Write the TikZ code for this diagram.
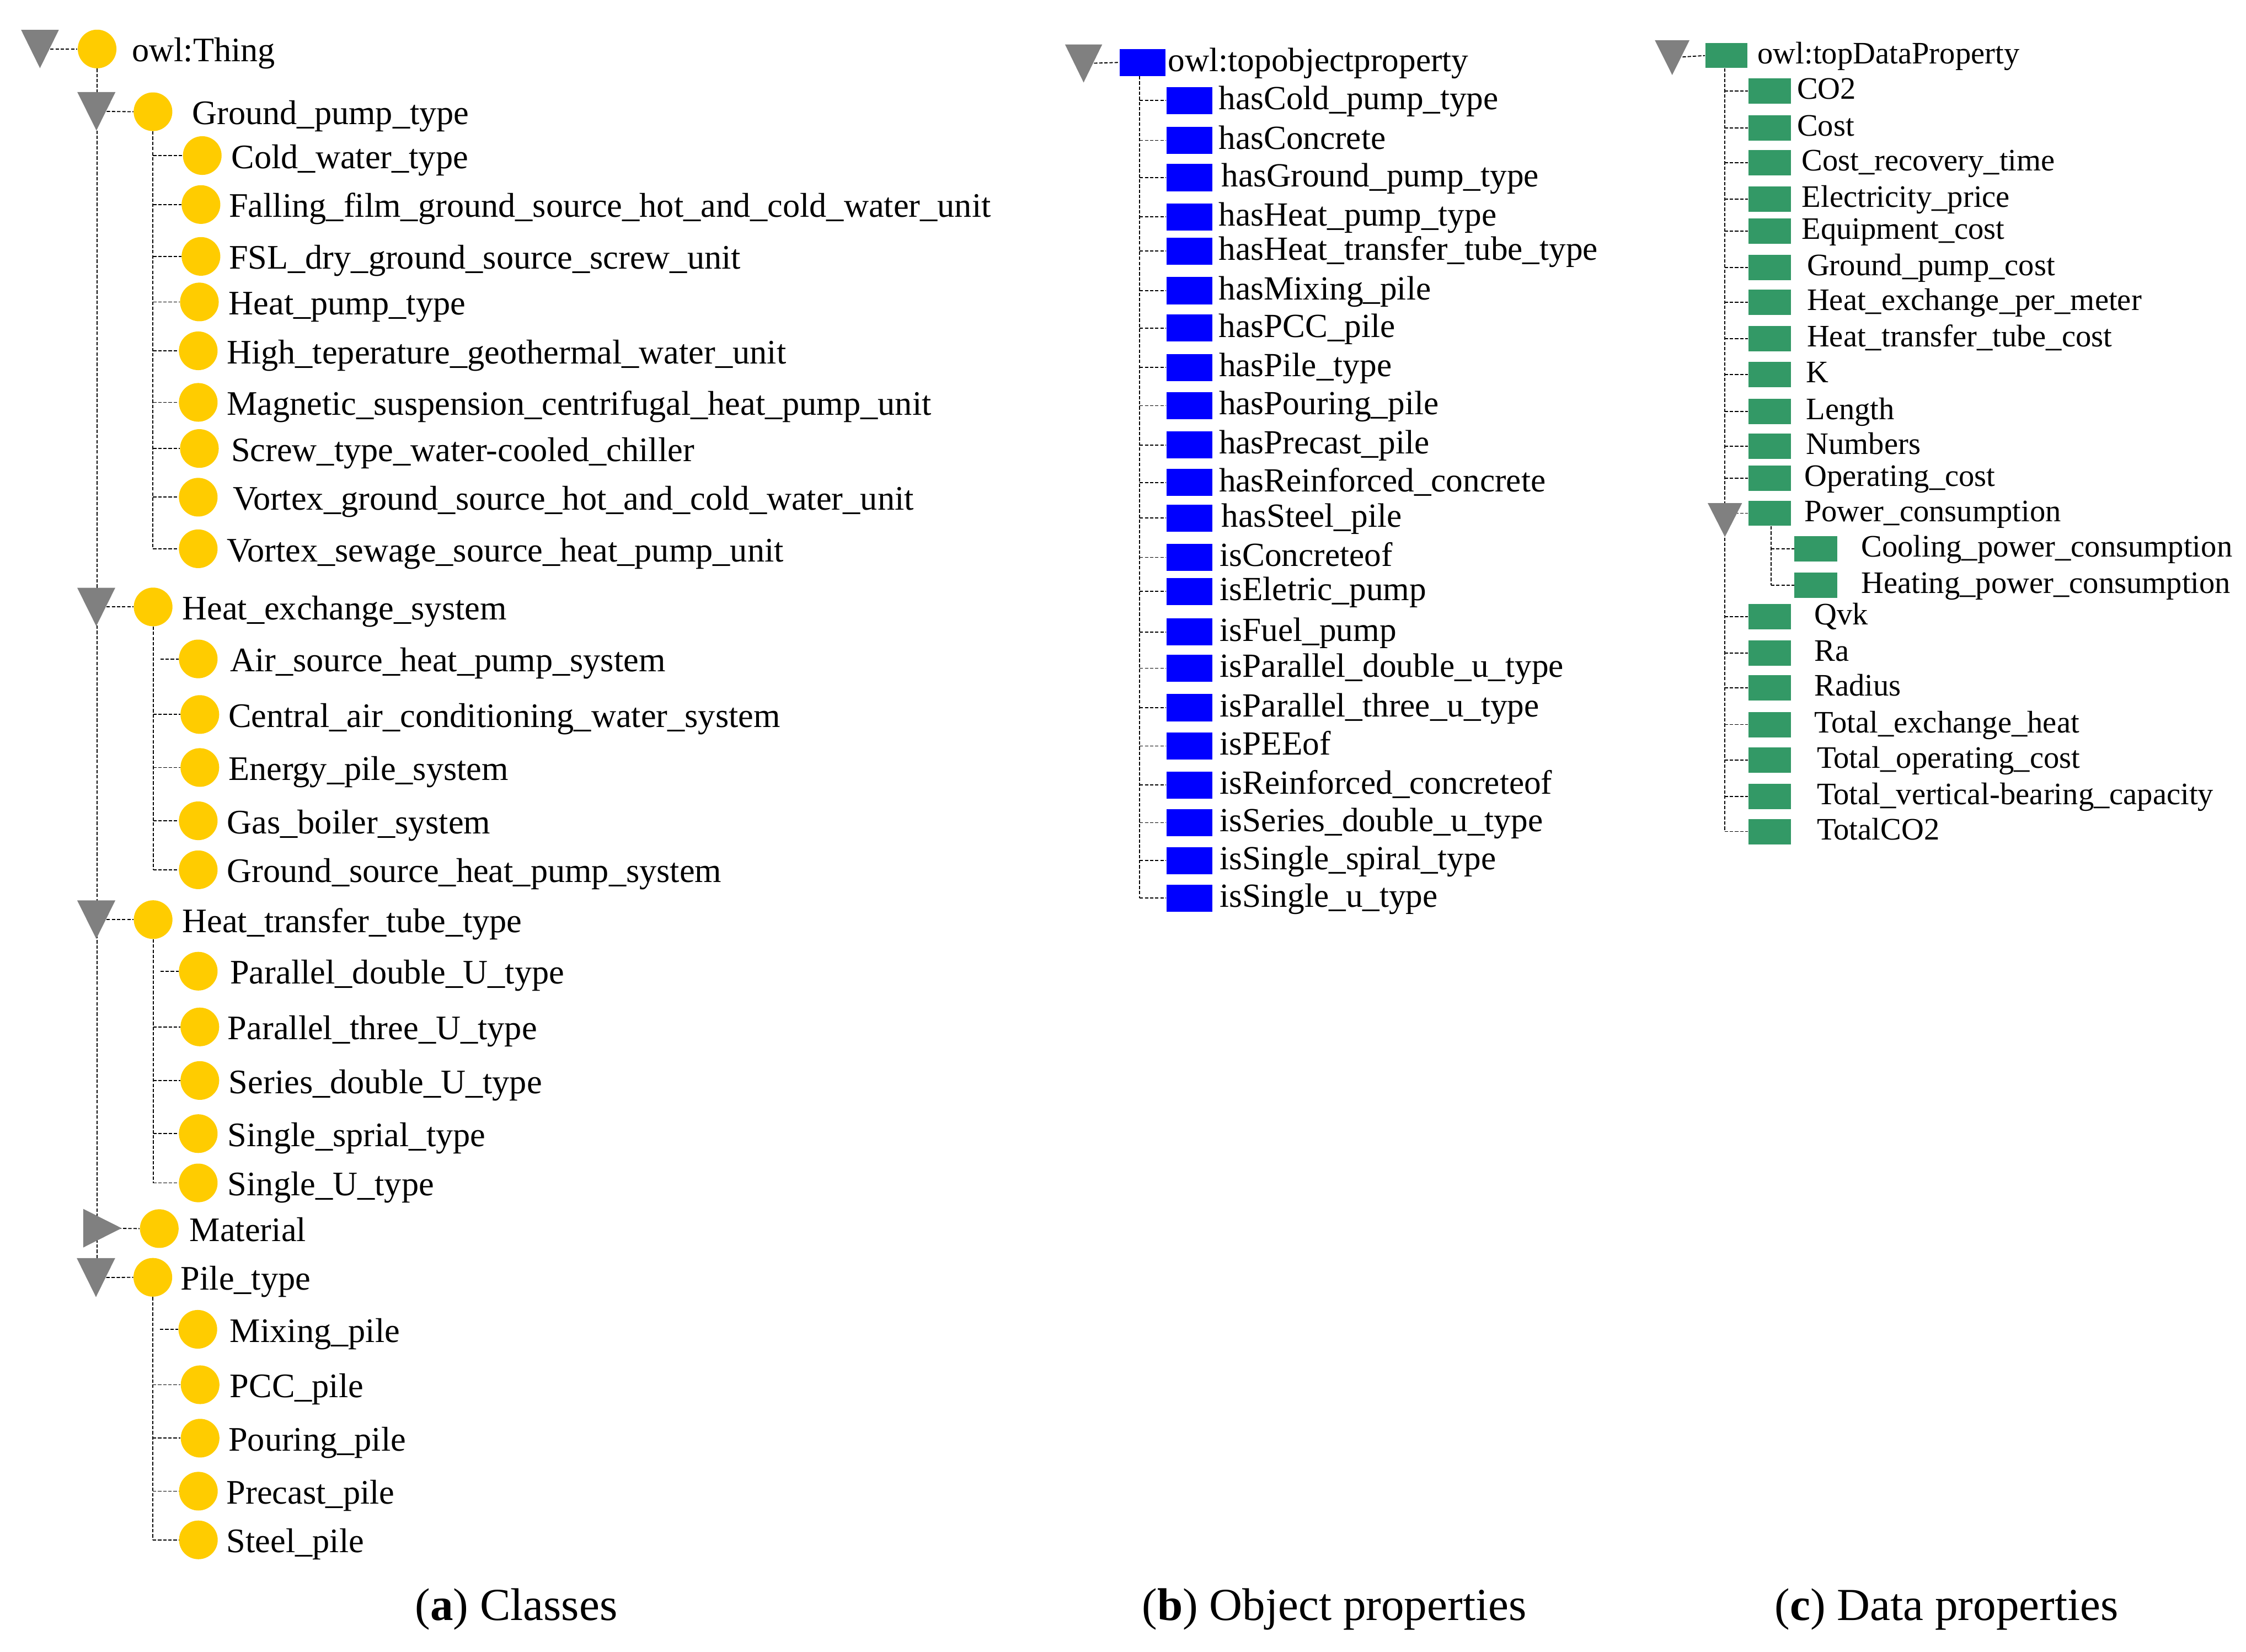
\documentclass[tikz,border=0pt]{standalone}
\usepackage{fontspec}
\setmainfont{Liberation Serif}
\usetikzlibrary{calc}
\definecolor{owlyellow}{HTML}{FFCC00}
\definecolor{trigray}{HTML}{808080}
\definecolor{opblue}{HTML}{0000FF}
\definecolor{dpgreen}{HTML}{339966}
\pgfdeclarelayer{bg}
\pgfsetlayers{bg,main}
\tikzset{
  conn/.style={draw=black, line width=0.7pt, dash pattern=on 2.4pt off 1.2pt},
  cls/.style={circle, fill=owlyellow, minimum size=27pt, inner sep=0pt},
  oprop/.style={rectangle, fill=opblue, minimum width=32pt, minimum height=19pt, inner sep=0pt},
  dprop/.style={rectangle, fill=dpgreen, minimum width=29.8pt, minimum height=17.7pt, inner sep=0pt},
  clbl/.style={anchor=base west, inner sep=0pt, font=\fontsize{24}{28}\selectfont},
  olbl/.style={anchor=base west, inner sep=0pt, font=\fontsize{23.6}{28}\selectfont},
  dlbl/.style={anchor=base west, inner sep=0pt, font=\fontsize{21.8}{26}\selectfont},
  caplbl/.style={anchor=base, inner sep=0pt, font=\fontsize{32}{38}\selectfont},
  trifill/.style={fill=trigray},
}
% class node: name, cx, cy, text x, label
\newcommand{\clsnode}[5]{\node[cls] (#1) at (#2,#3) {}; \node[clbl] (#1-l) at (#4,#3+8.9) {#5};}
% object property: name, cy, text x, label
\newcommand{\opnode}[4]{\node[oprop] (#1) at (830.3,#2) {}; \node[olbl] (#1-l) at (#3,#2+6.3) {#4};}
% data property: name, cx, cy, text x, label
\newcommand{\dpnode}[5]{\node[dprop] (#1) at (#2,#3) {}; \node[dlbl] (#1-l) at (#4,#3+5.6) {#5};}
% down triangle: name, x, y, half width, half height
\newcommand{\tdown}[5]{\coordinate (#1) at (#2,#3);
  \fill[trifill] ($(#1)+(-#4,-#5)$) -- ($(#1)+(#4,-#5)$) -- ($(#1)+(0,#5)$) -- cycle;}
\newcommand{\tright}[5]{\coordinate (#1) at (#2,#3);
  \fill[trifill] ($(#1)+(-#4,-#5)$) -- ($(#1)+(#4,0)$) -- ($(#1)+(-#4,#5)$) -- cycle;}
\begin{document}
\begin{tikzpicture}[x=1pt,y=-1pt]
\useasboundingbox (0,0) rectangle (1568,1153);

% ================= (a) Classes =================
\clsnode{thing}{67.8}{34.2}{92}{owl:Thing}
\clsnode{gp}{106.8}{78}{134}{Ground\_pump\_type}
\clsnode{gpa}{141.2}{108.6}{161.4}{Cold\_water\_type}
\clsnode{gpb}{140.3}{142.8}{159.7}{Falling\_film\_ground\_source\_hot\_and\_cold\_water\_unit}
\clsnode{gpc}{140.3}{179}{159.7}{FSL\_dry\_ground\_source\_screw\_unit}
\clsnode{gpd}{139.2}{210.8}{159.5}{Heat\_pump\_type}
\clsnode{gpe}{138.4}{244.9}{158.1}{High\_teperature\_geothermal\_water\_unit}
\clsnode{gpf}{138.4}{280.9}{158.1}{Magnetic\_suspension\_centrifugal\_heat\_pump\_unit}
\clsnode{gpg}{139.2}{313.1}{161.2}{Screw\_type\_water-cooled\_chiller}
\clsnode{gph}{138.4}{347.1}{162.3}{Vortex\_ground\_source\_hot\_and\_cold\_water\_unit}
\clsnode{gpi}{138.4}{383.1}{158.1}{Vortex\_sewage\_source\_heat\_pump\_unit}

\clsnode{he}{106.9}{423.7}{127}{Heat\_exchange\_system}
\clsnode{hea}{138.4}{460}{160.5}{Air\_source\_heat\_pump\_system}
\clsnode{heb}{139.5}{498.8}{159.3}{Central\_air\_conditioning\_water\_system}
\clsnode{hec}{139.5}{535.8}{159.3}{Energy\_pile\_system}
\clsnode{hed}{138.4}{573}{158.3}{Gas\_boiler\_system}
\clsnode{hee}{138.4}{607.2}{158.3}{Ground\_source\_heat\_pump\_system}

\clsnode{ht}{106.9}{642}{127}{Heat\_transfer\_tube\_type}
\clsnode{hta}{138.4}{678}{160.5}{Parallel\_double\_U\_type}
\clsnode{htb}{139.5}{716.9}{158.8}{Parallel\_three\_U\_type}
\clsnode{htc}{139.5}{754.3}{159.6}{Series\_double\_U\_type}
\clsnode{htd}{138.4}{791.4}{158.8}{Single\_sprial\_type}
\clsnode{hte}{138.4}{825.8}{158.8}{Single\_U\_type}

\clsnode{ma}{111.2}{857.7}{132.2}{Material}

\clsnode{pt}{106.7}{891.7}{126}{Pile\_type}
\clsnode{pta}{138.1}{928}{160.3}{Mixing\_pile}
\clsnode{ptb}{139.7}{966.7}{160.3}{PCC\_pile}
\clsnode{ptc}{139.7}{1004}{159.3}{Pouring\_pile}
\clsnode{ptd}{138.5}{1041}{158}{Precast\_pile}
\clsnode{pte}{138.5}{1075}{158}{Steel\_pile}

\tdown{thingT}{27.9}{34.2}{13.2}{13.4}
\tdown{gpT}{67.3}{77.7}{13.3}{13.4}
\tdown{heT}{67.2}{423.7}{13.3}{13.4}
\tdown{htT}{67.2}{642}{13.3}{13.4}
\tright{maT}{71.5}{857.4}{13.4}{13.5}
\tdown{ptT}{67.0}{891.9}{13.4}{13.6}

\begin{pgfonlayer}{bg}
\draw[conn] (thingT) -- (thing.west);
\draw[conn] (thing.south) -- (thing.south |- ptT);
\draw[conn] (gpT) -- (gp.west);
\draw[conn] (heT) -- (he.west);
\draw[conn] (htT) -- (ht.west);
\draw[conn] (maT) -- (ma.west);
\draw[conn] (ptT) -- (pt.west);
% Ground_pump_type
\draw[conn] (gp.south) -- (gp.south |- gpi.west);
\foreach \c in {gpa,gpb,gpc,gpd,gpe,gpf,gpg,gph,gpi}
  \draw[conn] (gp.south |- \c.west) -- (\c.west);
% Heat_exchange_system
\draw[conn] (he.south) -- (he.south |- hee.west);
\draw[conn] ([xshift=5pt]he.south |- hea.west) -- (hea.west);
\foreach \c in {heb,hec,hed,hee}
  \draw[conn] (he.south |- \c.west) -- (\c.west);
% Heat_transfer_tube_type
\draw[conn] (ht.south) -- (ht.south |- hte.west);
\draw[conn] ([xshift=5pt]ht.south |- hta.west) -- (hta.west);
\foreach \c in {htb,htc,htd,hte}
  \draw[conn] (ht.south |- \c.west) -- (\c.west);
% Pile_type
\draw[conn] (pt.south) -- (pt.south |- pte.west);
\draw[conn] ([xshift=5pt]pt.south |- pta.west) -- (pta.west);
\foreach \c in {ptb,ptc,ptd,pte}
  \draw[conn] (pt.south |- \c.west) -- (\c.west);
\end{pgfonlayer}

% ================= (b) Object properties =================
\node[oprop, minimum height=18.7pt] (topO) at (797.6,43.6) {};
\node[olbl] (topO-l) at (815.3,43.6+6.3) {owl:topobjectproperty};
\tdown{topOT}{756.5}{44.3}{13}{13.3}
\opnode{oa}{70.2}{850.6}{hasCold\_pump\_type}
\opnode{ob}{98}{850.6}{hasConcrete}
\opnode{oc}{124}{852.6}{hasGround\_pump\_type}
\opnode{od}{151.4}{850.6}{hasHeat\_pump\_type}
\opnode{oe}{175.3}{850.6}{hasHeat\_transfer\_tube\_type}
\opnode{of}{202.9}{850.6}{hasMixing\_pile}
\opnode{og}{229}{850.6}{hasPCC\_pile}
\opnode{oh}{256.6}{850.8}{hasPile\_type}
\opnode{oi}{283.2}{850.8}{hasPouring\_pile}
\opnode{oj}{310.6}{850.8}{hasPrecast\_pile}
\opnode{ok}{336.8}{850.8}{hasReinforced\_concrete}
\opnode{ol}{361.7}{852.6}{hasSteel\_pile}
\opnode{om}{389.1}{851.4}{isConcreteof}
\opnode{on}{412.9}{851.4}{isEletric\_pump}
\opnode{oo}{441.2}{851.4}{isFuel\_pump}
\opnode{op}{466.5}{851.5}{isParallel\_double\_u\_type}
\opnode{oq}{494}{851.5}{isParallel\_three\_u\_type}
\opnode{or}{520.8}{851.5}{isPEEof}
\opnode{os}{548.1}{851.5}{isReinforced\_concreteof}
\opnode{ot}{574.3}{851.5}{isSeries\_double\_u\_type}
\opnode{ou}{600.8}{851.5}{isSingle\_spiral\_type}
\opnode{ov}{627}{851.5}{isSingle\_u\_type}

\begin{pgfonlayer}{bg}
\draw[conn] (topOT) -- (topO.west);
\draw[conn] ([xshift=-2pt]topO.south) -- ([xshift=-2pt]topO.south |- ov.west);
\foreach \c in {oa,ob,oc,od,oe,of,og,oh,oi,oj,ok,ol,om,on,oo,op,oq,or,os,ot,ou,ov}
  \draw[conn] ([xshift=-2pt]topO.south |- \c.west) -- (\c.west);
\end{pgfonlayer}

% ================= (c) Data properties =================
\node[dprop, minimum width=29.5pt, minimum height=17.5pt] (topD) at (1205.2,38.8) {};
\node[dlbl] (topD-l) at (1226.8,38.8+5.6) {owl:topDataProperty};
\tdown{topDT}{1167.4}{40.2}{12.1}{12.15}
\dpnode{da}{1235.4}{63.5}{1254.4}{CO2}
\dpnode{db}{1235.4}{89.4}{1254.4}{Cost}
\dpnode{dc}{1235.4}{113.6}{1257.7}{Cost\_recovery\_time}
\dpnode{dd}{1235.4}{139}{1257.7}{Electricity\_price}
\dpnode{de}{1235.4}{161.2}{1257.7}{Equipment\_cost}
\dpnode{df}{1235.4}{186.8}{1261.3}{Ground\_pump\_cost}
\dpnode{dg}{1235.4}{211}{1261.3}{Heat\_exchange\_per\_meter}
\dpnode{dh}{1235.4}{236.3}{1261.3}{Heat\_transfer\_tube\_cost}
\dpnode{di}{1235.4}{261.5}{1260.7}{K}
\dpnode{dj}{1235.4}{287.2}{1260.7}{Length}
\dpnode{dk}{1235.4}{311.5}{1260.7}{Numbers}
\dpnode{dl}{1235.4}{333.7}{1259.6}{Operating\_cost}
\dpnode{pw}{1235.4}{358.3}{1259.4}{Power\_consumption}
\dpnode{pwa}{1267.6}{383}{1299.1}{Cooling\_power\_consumption}
\dpnode{pwb}{1267.6}{408.5}{1299.1}{Heating\_power\_consumption}
\dpnode{dm}{1235.4}{430.4}{1266.5}{Qvk}
\dpnode{dn}{1235.4}{455.8}{1266.5}{Ra}
\dpnode{do}{1235.4}{480.2}{1266.5}{Radius}
\dpnode{dp}{1235.4}{505.8}{1266.5}{Total\_exchange\_heat}
\dpnode{dq}{1235.4}{530.5}{1268.2}{Total\_operating\_cost}
\dpnode{dr}{1235.4}{556}{1268.2}{Total\_vertical-bearing\_capacity}
\dpnode{ds}{1235.4}{580.5}{1268.2}{TotalCO2}
\tdown{pwT}{1204.2}{363}{12}{11.8}

\begin{pgfonlayer}{bg}
\draw[conn] (topDT) -- (topD.west);
\draw[conn] ([xshift=-1.2pt]topD.south) -- ([xshift=-1.2pt]topD.south |- ds.west);
\foreach \c in {da,db,dc,dd,de,df,dg,dh,di,dj,dk,dl,pw,dm,dn,do,dp,dq,dr,ds}
  \draw[conn] ([xshift=-1.2pt]topD.south |- \c.west) -- (\c.west);
\draw[conn] ([xshift=1pt]pw.south) -- ([xshift=1pt]pw.south |- pwb.west);
\foreach \c in {pwa,pwb}
  \draw[conn] ([xshift=1pt]pw.south |- \c.west) -- (\c.west);
\end{pgfonlayer}

% ================= captions =================
\node[caplbl] (capa) at (360.4,1131) {(\textbf{a}) Classes};
\node[caplbl] (capb) at (931.5,1131) {(\textbf{b}) Object properties};
\node[caplbl] (capc) at (1359,1131) {(\textbf{c}) Data properties};
\end{tikzpicture}
\end{document}
